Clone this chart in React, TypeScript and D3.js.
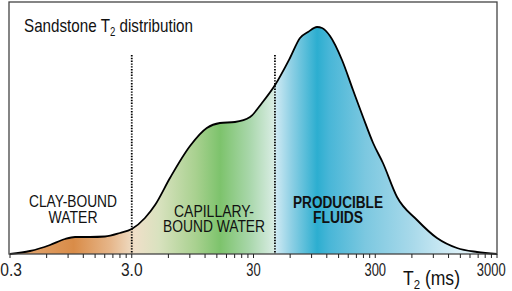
import React from "react";
import * as d3 from "d3";

const T2 = [0.3, 0.438, 0.639, 0.849, 1.026, 1.36, 1.81, 2.4, 3.0, 3.85, 4.66, 6.18, 9.03, 12.4, 15.9, 21.1, 28.1, 35.2, 45.1, 59.8, 72.3, 84.1, 99.8, 109.7, 127.5, 160, 197, 238, 288, 347, 453, 661, 964, 1407, 2055, 3000];
const AMP = [0, 3, 9, 15, 17, 17, 17.5, 21, 25, 36, 49, 76, 108, 126, 131, 132, 137, 151, 169, 196, 216, 222, 227, 226, 218, 194, 164, 137, 111, 91, 57, 34, 16, 6, 2, 0];
const TICK_LABELS = ["0.3", "3.0", "30", "300", "3000"];
const TICK_VALUES = [0.3, 3, 30, 300, 3000];
const CUTOFFS = [3, 45];
const CUTOFF_TOP = 199;

const W = 512, H = 291;
const x = d3.scaleLog().domain([0.3, 3000]).range([10, 497]);
const y = d3.scaleLinear().domain([0, 227]).range([254, 27]);

const ticks = Array.from(new Set(
  [0.3, 3, 30, 300].flatMap((b) => d3.range(1, 11).map((k) => +(b * k).toPrecision(6)))
)).filter((v) => v <= 3000);

const pts = T2.map((t, i) => [t, AMP[i]] as [number, number]);
const area = d3.area<[number, number]>().x((d) => x(d[0])).y0(y(0)).y1((d) => y(d[1])).curve(d3.curveMonotoneX);
const line = d3.line<[number, number]>().x((d) => x(d[0])).y((d) => y(d[1])).curve(d3.curveMonotoneX);

const STOPS: [number, string][] = [
  [0.3, "#e4ab78"], [1.0, "#d98c48"], [2.0, "#e6b68a"], [3.2, "#efdfc8"],
  [5, "#d9e2bf"], [10, "#a9d190"], [16, "#7dc36c"], [28, "#a9d7ab"],
  [44, "#d8ece3"], [46, "#cde9f3"], [62, "#8ccfe4"], [100, "#2caed0"],
  [125, "#48b6d7"], [250, "#7cc8e0"], [600, "#a8d9ea"], [1400, "#d8eff7"], [3000, "#eef8fb"],
];

const font = "'Liberation Sans', Arial, sans-serif";

export default function App() {
  const labelX = (t: number, s: string) => Math.min(Math.max(x(t), s.length * 3.7), W - 6 - s.length * 3.7);
  return (
    <svg width={W} height={H} style={{ position: "absolute", left: 0, top: 0 }}>
      <defs>
        <linearGradient id="g" gradientUnits="userSpaceOnUse" x1={x(0.3)} x2={x(3000)} y1={0} y2={0}>
          {STOPS.map(([t, c], i) => (
            <stop key={i} offset={(x(t) - x(0.3)) / (x(3000) - x(0.3))} stopColor={c} />
          ))}
        </linearGradient>
      </defs>
      <rect x={0} y={0} width={W} height={H} fill="#fff" />
      <path d={area(pts) || ""} fill="url(#g)" />
      <path d={line(pts) || ""} fill="none" stroke="#000" strokeWidth={1.8} />
      {CUTOFFS.map((c, i) => (
        <line key={i} x1={x(c)} x2={x(c)} y1={y(CUTOFF_TOP)} y2={y(0)} stroke="#000" strokeWidth={1.8} strokeDasharray="1.4,1.4" />
      ))}
      <rect x={9} y={2} width={488} height={252} fill="none" stroke="#444" strokeWidth={1.3} />
      {ticks.map((t, i) => (
        <line key={i} x1={x(t)} x2={x(t)} y1={254} y2={258} stroke="#222" strokeWidth={1} />
      ))}
      {TICK_VALUES.map((t, i) => (
        <text key={i} x={labelX(t, TICK_LABELS[i])} y={276} textAnchor="middle" fontFamily={font} fontSize={18}
          textLength={TICK_LABELS[i].length * 7.2} lengthAdjust="spacingAndGlyphs" fill="#222">
          {TICK_LABELS[i]}
        </text>
      ))}
      <text x={24} y={32} fontFamily={font} fontSize={19} fill="#111" textLength={169} lengthAdjust="spacingAndGlyphs">
        Sandstone T<tspan fontSize={12} dy={4}>2</tspan><tspan dy={-4}> distribution</tspan>
      </text>
      <text x={403} y={285} fontFamily={font} fontSize={20} fill="#111" textLength={57} lengthAdjust="spacingAndGlyphs">
        T<tspan fontSize={13} dy={4}>2</tspan><tspan dy={-4}> (ms)</tspan>
      </text>
      <g fontFamily={font} fontSize={16} fill="#111" textAnchor="middle">
        <text x={73} y={207} textLength={88} lengthAdjust="spacingAndGlyphs">CLAY-BOUND</text>
        <text x={73} y={223} textLength={49} lengthAdjust="spacingAndGlyphs">WATER</text>
        <text x={214} y={217} textLength={80} lengthAdjust="spacingAndGlyphs">CAPILLARY-</text>
        <text x={214} y={232} textLength={102} lengthAdjust="spacingAndGlyphs">BOUND WATER</text>
        <text x={338} y={208} fontWeight="bold" textLength={90} lengthAdjust="spacingAndGlyphs">PRODUCIBLE</text>
        <text x={338} y={223} fontWeight="bold" textLength={50} lengthAdjust="spacingAndGlyphs">FLUIDS</text>
      </g>
    </svg>
  );
}
